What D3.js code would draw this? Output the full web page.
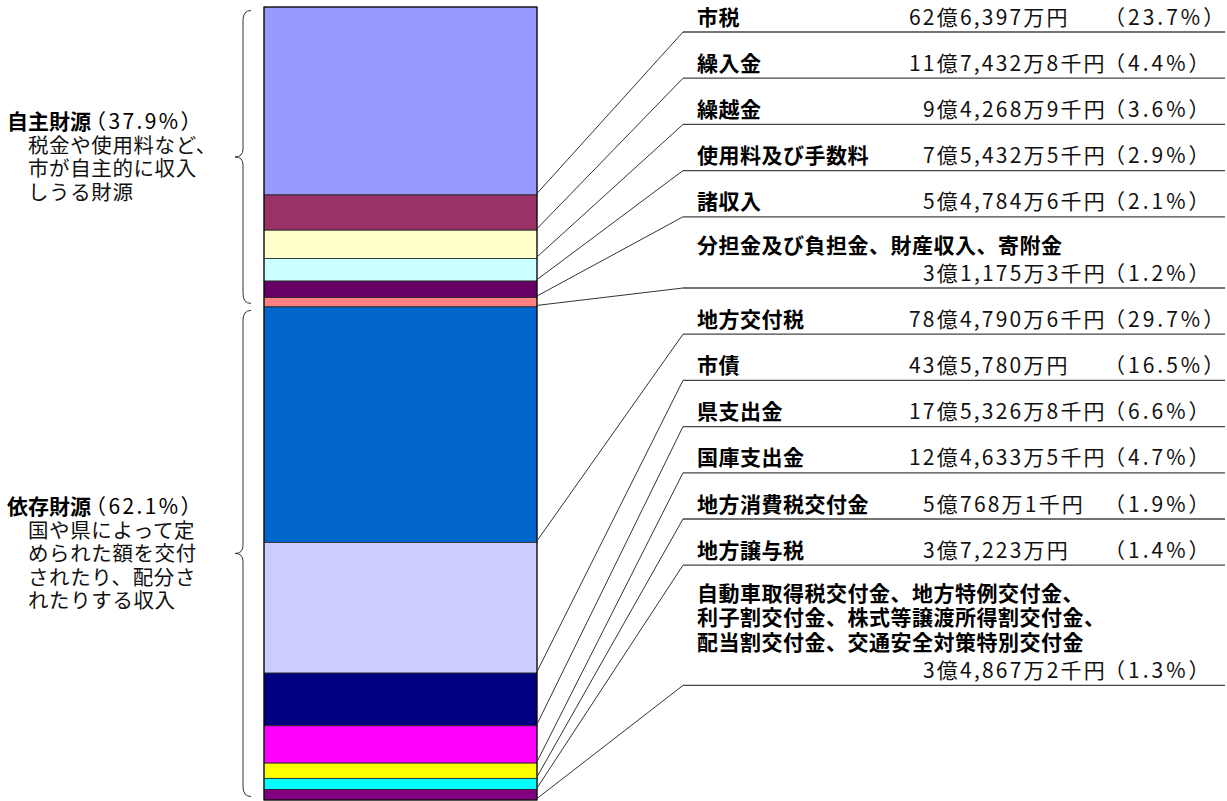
<!DOCTYPE html>
<html lang="ja">
<head>
<meta charset="utf-8">
<script src="https://cdn.jsdelivr.net/npm/d3@7"></script>
<style>
  body { margin: 0; background: #fff; }
  svg { display: block; font-family: "Noto Sans CJK JP", sans-serif; }
  .name { font-weight: bold; font-size: 21px; letter-spacing: 0.5px; fill: #000; }
  .amount { font-size: 21px; letter-spacing: 2.2px; fill: #111; }
  .share { font-size: 21px; letter-spacing: 3px; fill: #111; }
  .group { font-weight: bold; font-size: 21px; fill: #000; }
  .note { font-size: 20.5px; letter-spacing: 0.6px; fill: #111; }
</style>
</head>
<body>
<script>
// 歳入の内訳 (単位: 千円)
const categories = [
    "市税", "繰入金", "繰越金", "使用料及び手数料", "諸収入",
    "分担金及び負担金、財産収入、寄附金",
    "地方交付税", "市債", "県支出金", "国庫支出金", "地方消費税交付金", "地方譲与税",
    "自動車取得税交付金、地方特例交付金、\n利子割交付金、株式等譲渡所得割交付金、\n配当割交付金、交通安全対策特別交付金"
];
const values = [
    6263970, 1174328, 942689, 754325, 547846, 311753,
    7847906, 4357800, 1753268, 1246335, 507681, 372230, 348672
];
const amountLabels = [
    "62億6,397万円", "11億7,432万8千円", "9億4,268万9千円", "7億5,432万5千円", "5億4,784万6千円",
    "3億1,175万3千円",
    "78億4,790万6千円", "43億5,780万円", "17億5,326万8千円", "12億4,633万5千円", "5億768万1千円",
    "3億7,223万円", "3億4,867万2千円"
];
const shareLabels = [
    "23.7%", "4.4%", "3.6%", "2.9%", "2.1%", "1.2%",
    "29.7%", "16.5%", "6.6%", "4.7%", "1.9%", "1.4%", "1.3%"
];
const colors = [
    "#9999FF", "#993366", "#FFFFCC", "#CCFFFF", "#660066", "#FF8080",
    "#0066CC", "#CCCCFF", "#000080", "#FF00FF", "#FFFF00", "#00FFFF", "#800080"
];
const groupNames = ["自主財源", "依存財源"];
const groupShares = ["37.9%", "62.1%"];
const groupNotes = [
    ["税金や使用料など、", "市が自主的に収入", "しうる財源"],
    ["国や県によって定", "められた額を交付", "されたり、配分さ", "れたりする収入"]
];
const groupSizes = [6, 7];

const width = 1227, height = 801;
const svg = d3.select("body").append("svg")
    .attr("width", width)
    .attr("height", height);

const x = d3.scaleBand().domain(["歳入"]).range([264, 537]);
const y = d3.scaleLinear().domain([0, d3.sum(values)]).range([7, 800]);

const ends = Array.from(d3.cumsum(values));
const starts = ends.map((e, i) => e - values[i]);

// stacked bar
const bar = svg.append("g");
bar.selectAll("rect.seg")
    .data(values)
    .join("rect")
    .attr("class", "seg")
    .attr("x", x("歳入"))
    .attr("width", x.bandwidth())
    .attr("y", (d, i) => y(starts[i]))
    .attr("height", (d, i) => y(ends[i]) - y(starts[i]))
    .attr("fill", (d, i) => colors[i])
    .attr("stroke", "#222")
    .attr("stroke-width", 0.8);
bar.append("rect")
    .attr("x", x("歳入"))
    .attr("width", x.bandwidth())
    .attr("y", y(0))
    .attr("height", y(d3.sum(values)) - y(0))
    .attr("fill", "none")
    .attr("stroke", "#000")
    .attr("stroke-width", 1);

// label rows on the right
const labelLeft = 683, labelRight = 1225;
const rowStep = 46.2, lineStep = 24.5, amountGap = 25;
const rows = [];
let uy = 32;
categories.forEach((name, i) => {
    const lines = name.split("\n");
    const own = name.length > 10;   // long names put the amount on its own line
    const extra = (lines.length - 1) * lineStep + (own ? amountGap : 0);
    if (i > 0) uy += rowStep + extra;
    rows.push({lines, own, uy});
});

const labels = svg.append("g");
const barRight = x("歳入") + x.bandwidth();
rows.forEach((r, i) => {
    labels.append("line")
        .attr("x1", barRight).attr("y1", y(ends[i]) - 1.5)
        .attr("x2", labelLeft).attr("y2", r.uy)
        .attr("stroke", "#333").attr("stroke-width", 1);
    labels.append("line")
        .attr("x1", labelLeft).attr("y1", r.uy)
        .attr("x2", labelRight).attr("y2", r.uy)
        .attr("stroke", "#444").attr("stroke-width", 1.3);

    const base = r.uy - 7.5;
    const lastName = r.own ? base - 28 : base;
    r.lines.forEach((t, j) => {
        labels.append("text")
            .attr("class", "name")
            .attr("x", 697)
            .attr("y", lastName - (r.lines.length - 1 - j) * lineStep)
            .text(t);
    });
    labels.append("text")
        .attr("class", "amount")
        .attr("x", /^\d億/.test(amountLabels[i]) ? 923 : 909)
        .attr("y", base)
        .text(amountLabels[i]);
    labels.append("text")
        .attr("class", "share")
        .attr("x", 1104)
        .attr("y", base)
        .text("（" + shareLabels[i] + "）");
});

// braces and group descriptions on the left
function bracePath(bx, y0, y1) {
    const ym = (y0 + y1) / 2;
    return `M${bx + 8},${y0} Q${bx},${y0} ${bx},${y0 + 10} L${bx},${ym - 8}` +
        ` Q${bx},${ym} ${bx - 8},${ym} Q${bx},${ym} ${bx},${ym + 8}` +
        ` L${bx},${y1 - 10} Q${bx},${y1} ${bx + 8},${y1}`;
}

const groups = svg.append("g");
let first = 0;
groupNames.forEach((g, k) => {
    const last = first + groupSizes[k] - 1;
    const y0 = y(starts[first]) + 3.5, y1 = y(ends[last]) - 3.5;
    const tip = (y0 + y1) / 2;
    groups.append("path")
        .attr("d", bracePath(243, y0, y1))
        .attr("fill", "none")
        .attr("stroke", "#333")
        .attr("stroke-width", 1);

    const n = groupNotes[k].length + 1;
    const firstCenter = tip - (n - 1) / 2 * 23.5;
    const head = groups.append("text")
        .attr("class", "group")
        .attr("x", 7)
        .attr("y", firstCenter + 7.6);
    head.append("tspan").text(g);
    head.append("tspan")
        .attr("dx", -6)
        .style("font-weight", "normal")
        .style("letter-spacing", "2.4px")
        .text("（" + groupShares[k] + "）");
    groupNotes[k].forEach((t, j) => {
        groups.append("text")
            .attr("class", "note")
            .attr("x", 28)
            .attr("y", firstCenter + 7.6 + (j + 1) * 23.5)
            .text(t);
    });
    first = last + 1;
});
</script>
</body>
</html>
